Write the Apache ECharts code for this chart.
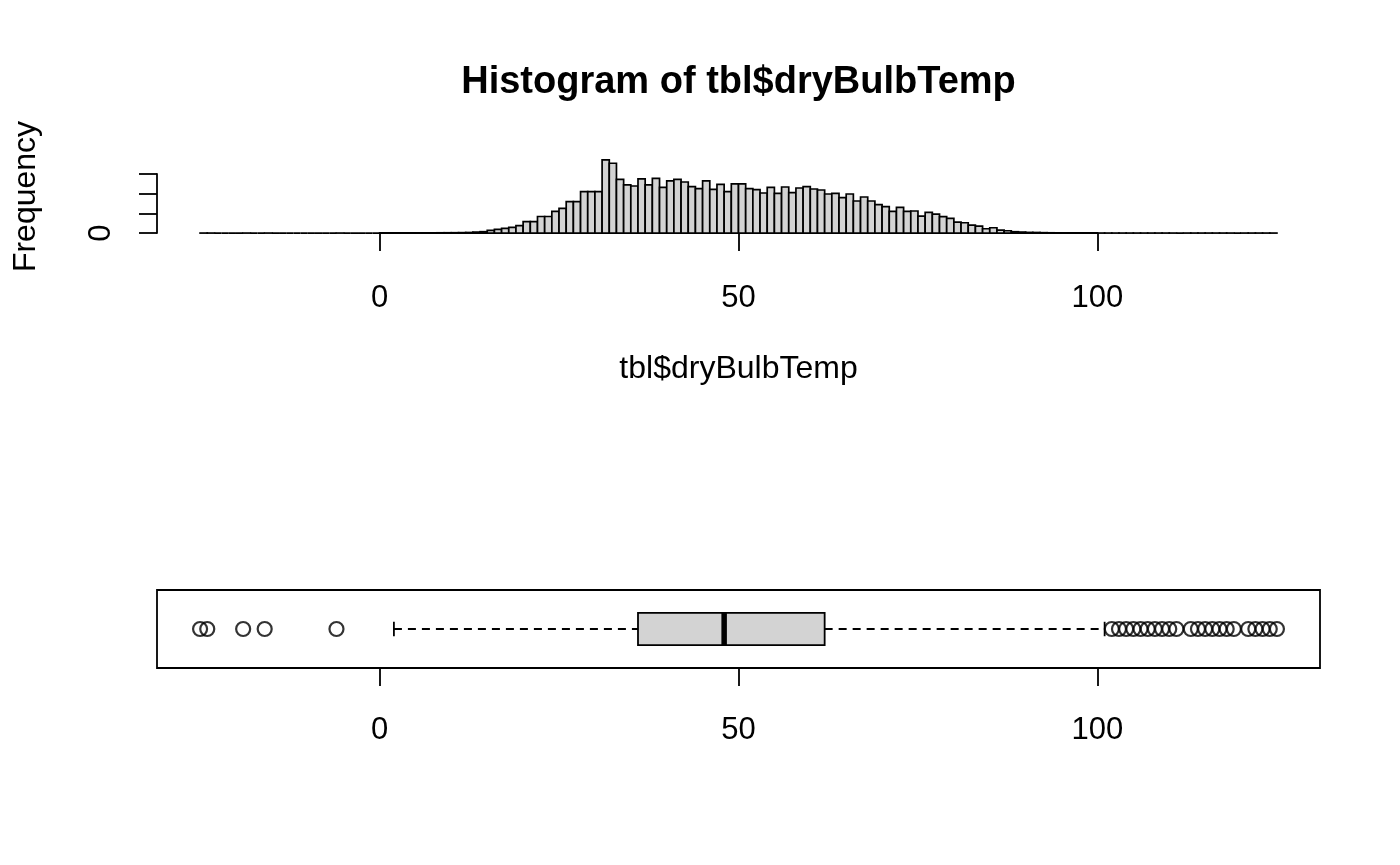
<!DOCTYPE html>
<html>
<head>
<meta charset="utf-8">
<script src="https://cdn.jsdelivr.net/npm/echarts@6/dist/echarts.min.js"></script>
<style>
html,body{margin:0;padding:0;background:#fff;}
#chart{width:1400px;height:865px;}
</style>
</head>
<body>
<div id="chart"></div>
<script>
// ---------- data ----------
const breakStart = -25;   // left edge of first histogram bin
const binWidth = 1;
// frequency per bin, bins [-25,-24] ... [124,125]
const counts = [
  1, 1, 0, 0, 0, 0, 1, 0, 0, 1,            // -25 .. -16
  0, 0, 0, 0, 0, 0, 0, 0, 0, 1,            // -15 .. -6
  0, 0, 0, 0, 0, 0,                        // -5 .. 0
  1, 3, 4, 6, 8, 10, 12, 14, 16, 18,       // 1 .. 10
  22, 30, 50, 70, 136, 186, 240, 290, 375, 576,      // 11 .. 20
  576, 840, 840, 1100, 1254, 1593, 1593, 2102, 2102, 2102, // 21 .. 30
  3712, 3543, 2729, 2441, 2390, 2746, 2441, 2780, 2322, 2644, // 31 .. 40
  2729, 2593, 2356, 2254, 2644, 2220, 2475, 2102, 2492, 2492, // 41 .. 50
  2254, 2203, 2034, 2322, 2017, 2339, 2051, 2288, 2356, 2237, // 51 .. 60
  2187, 1983, 2017, 1797, 1983, 1627, 1831, 1627, 1441, 1339, // 61 .. 70
  1102, 1305, 1102, 1119, 864, 1051, 966, 830, 746, 559,      // 71 .. 80
  525, 407, 356, 220, 271, 153, 119, 68, 51, 34,              // 81 .. 90
  30, 20, 14, 10, 8, 6, 4, 3, 2, 2,                           // 91 .. 100
  1, 1, 1, 1, 1, 1, 1, 1, 1, 1,                               // 101 .. 110
  0, 1, 1, 1, 1, 1, 1, 1, 0, 1,                               // 111 .. 120
  1, 1, 1, 1                                                  // 121 .. 124
];
const xTickValues = [0, 50, 100];
const yTickValues = [0, 1000, 2000, 3000];
// boxplot: lower whisker, Q1, median, Q3, upper whisker
const boxStats = [2, 36, 48, 62, 101];
const outliers = [-25, -24, -19, -16, -6,
  102, 103, 104, 105, 106, 107, 108, 109, 110, 111,
  113, 114, 115, 116, 117, 118, 119,
  121, 122, 123, 124, 125];

// ---------- derived ----------
const histData = counts.map((c, i) => [breakStart + i * binWidth, breakStart + (i + 1) * binWidth, c]);
const xLo = breakStart, xHi = breakStart + counts.length * binWidth;
const xPad = (xHi - xLo) * 0.04;
const xMin = xLo - xPad, xMax = xHi + xPad;
const yMaxData = Math.max(...counts);
const yPad = yMaxData * 0.04;
const yMin = -yPad, yMax = yMaxData + yPad;

const FONT = "'Liberation Sans', Arial, Helvetica, sans-serif";
const LW = 1.8;

// layout (px)
const plotLeft = 157, plotRight = 1320;
const plotW = plotRight - plotLeft;
const hTop = 157, hH = 79;
const bTop = 590, bH = 78;
const px = v => plotLeft + (v - xMin) / (xMax - xMin) * plotW;
const pyH = v => hTop + hH - (v - yMin) / (yMax - yMin) * hH;
const axLeft = px(xTickValues[0]), axRight = px(xTickValues[xTickValues.length - 1]);
const ayTop = pyH(yTickValues[yTickValues.length - 1]), ayBot = pyH(yTickValues[0]);

const chart = echarts.init(document.getElementById('chart'), null, {renderer: 'canvas'});

const axisLineStyle = {color: '#000', width: LW};
const labelStyle = {color: '#000', fontFamily: FONT, fontSize: 31};
const nameStyle = {color: '#000', fontFamily: FONT, fontSize: 32};

const option = {
  backgroundColor: '#fff',
  animation: false,
  title: {
    text: 'Histogram of tbl$dryBulbTemp',
    left: (axLeft + axRight) / 2,
    top: 64,
    padding: 0,
    textAlign: 'center',
    textStyle: {fontFamily: FONT, fontSize: 38, fontWeight: 'bold', color: '#000'}
  },
  grid: [
    {left: plotLeft, top: hTop, width: plotW, height: hH, containLabel: false},
    {left: axLeft, top: hTop, width: axRight - axLeft, height: hH, containLabel: false},
    {left: plotLeft, top: ayTop, width: 10, height: ayBot - ayTop, containLabel: false},
    {left: plotLeft, top: bTop, width: plotW, height: bH, containLabel: false,
     show: true, borderColor: '#000', borderWidth: LW, backgroundColor: 'transparent'},
    {left: axLeft, top: bTop, width: axRight - axLeft, height: bH, containLabel: false}
  ],
  xAxis: [
    {gridIndex: 0, type: 'value', min: xMin, max: xMax, show: false},
    {gridIndex: 1, type: 'value', min: 0, max: 100, interval: 50, position: 'bottom',
     axisLine: {show: true, lineStyle: axisLineStyle},
     axisTick: {show: true, length: 18, inside: false, lineStyle: axisLineStyle},
     axisLabel: Object.assign({margin: 47}, labelStyle),
     splitLine: {show: false},
     name: 'tbl$dryBulbTemp', nameLocation: 'middle', nameGap: 117,
     nameTextStyle: nameStyle},
    {gridIndex: 2, type: 'value', min: 0, max: 1, show: false},
    {gridIndex: 3, type: 'value', min: xMin, max: xMax, show: false},
    {gridIndex: 4, type: 'value', min: 0, max: 100, interval: 50, position: 'bottom',
     axisLine: {show: true, lineStyle: axisLineStyle},
     axisTick: {show: true, length: 18, inside: false, lineStyle: axisLineStyle},
     axisLabel: Object.assign({margin: 47}, labelStyle),
     splitLine: {show: false}}
  ],
  yAxis: [
    {gridIndex: 0, type: 'value', min: yMin, max: yMax,
     axisLine: {show: false}, axisTick: {show: false}, axisLabel: {show: false}, splitLine: {show: false},
     name: 'Frequency', nameLocation: 'middle', nameGap: 115, nameRotate: 90,
     nameTextStyle: nameStyle},
    {gridIndex: 1, type: 'value', min: yMin, max: yMax, show: false},
    {gridIndex: 2, type: 'value', min: 0, max: 3000, interval: 1000, position: 'left',
     axisLine: {show: true, lineStyle: axisLineStyle},
     axisTick: {show: true, length: 18, inside: false, lineStyle: axisLineStyle},
     axisLabel: Object.assign({margin: 40, rotate: 90,
       formatter: v => (v === 0 ? '0' : '')}, labelStyle),
     splitLine: {show: false}},
    {gridIndex: 3, type: 'value', min: 0.46, max: 1.54, show: false},
    {gridIndex: 4, type: 'value', min: 0, max: 1, show: false}
  ],
  series: [
    {
      type: 'custom', name: 'hist', xAxisIndex: 0, yAxisIndex: 0,
      data: histData,
      encode: {x: [0, 1], y: 2},
      clip: false,
      renderItem: function (params, api) {
        const p0 = api.coord([api.value(0), 0]);
        const p1 = api.coord([api.value(1), api.value(2)]);
        return {
          type: 'rect',
          shape: {x: p0[0], y: p1[1], width: p1[0] - p0[0], height: p0[1] - p1[1]},
          style: {fill: '#d3d3d3', stroke: '#000', lineWidth: 1.7}
        };
      }
    },
    {
      type: 'custom', name: 'box', xAxisIndex: 3, yAxisIndex: 3,
      data: [boxStats.concat([1])],
      encode: {x: [0, 1, 2, 3, 4], y: 5},
      renderItem: function (params, api) {
        const lo = api.value(0), q1 = api.value(1), med = api.value(2), q3 = api.value(3), hi = api.value(4);
        const yc = api.value(5);
        const bh = 0.222, sh = 0.1;
        const c = (x, y) => api.coord([x, y]);
        const line = (a, b, st) => ({type: 'line', shape: {x1: a[0], y1: a[1], x2: b[0], y2: b[1]}, style: st});
        const dashed = {stroke: '#000', lineWidth: LW, lineDash: [8, 6]};
        const solid = {stroke: '#000', lineWidth: LW};
        const tl = c(q1, yc + bh), br = c(q3, yc - bh);
        return {
          type: 'group',
          children: [
            line(c(lo, yc), c(q1, yc), dashed),
            line(c(q3, yc), c(hi, yc), dashed),
            line(c(lo, yc - sh), c(lo, yc + sh), solid),
            line(c(hi, yc - sh), c(hi, yc + sh), solid),
            {type: 'rect', shape: {x: tl[0], y: tl[1], width: br[0] - tl[0], height: br[1] - tl[1]},
             style: {fill: '#d3d3d3', stroke: '#000', lineWidth: LW}},
            line(c(med, yc - bh), c(med, yc + bh), {stroke: '#000', lineWidth: 5.5})
          ]
        };
      }
    },
    {
      type: 'scatter', name: 'outliers', xAxisIndex: 3, yAxisIndex: 3,
      data: outliers.map(v => [v, 1]),
      symbol: 'circle', symbolSize: 14,
      itemStyle: {color: 'rgba(0,0,0,0)', borderColor: '#000', borderWidth: 2.2},
      z: 5
    }
  ]
};
chart.setOption(option);
</script>
</body>
</html>
